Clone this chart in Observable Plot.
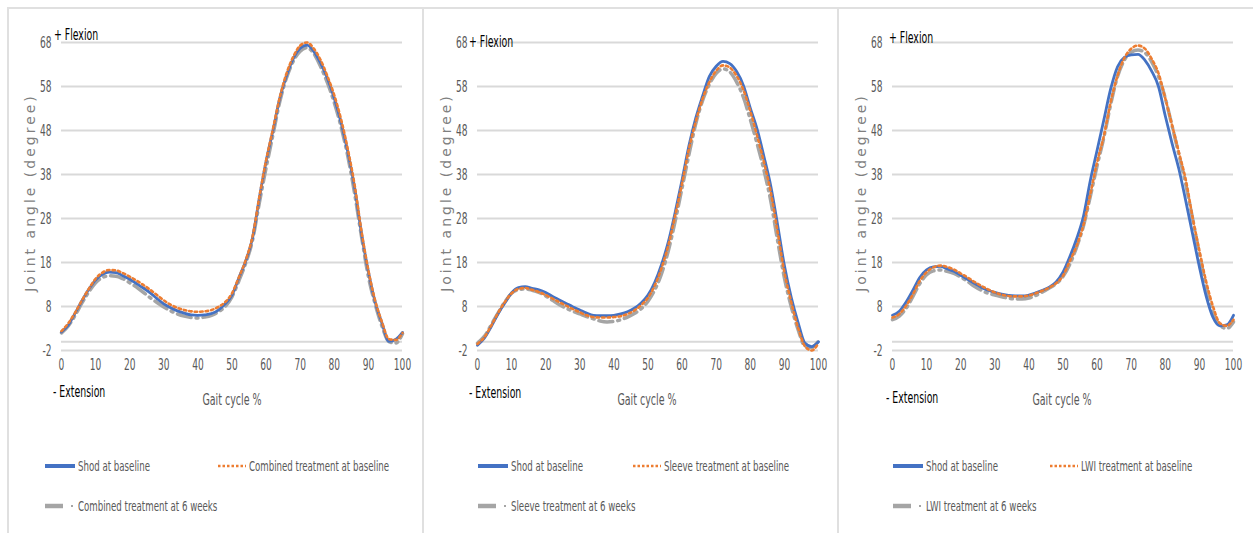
<!DOCTYPE html>
<html>
<head>
<meta charset="utf-8">
<script src="https://cdn.jsdelivr.net/npm/d3@7"></script>
<script src="https://cdn.jsdelivr.net/npm/@observablehq/plot@0.6"></script>
<style>
  html, body { margin: 0; padding: 0; background: #fff; }
  #root { position: relative; width: 1253px; height: 533px; overflow: hidden; background: #fff; }
  .frame { position: absolute; left: 7px; top: 7px; right: -5px; bottom: -5px; border-top: 2px solid #e0e0e0; border-left: 2px solid #e0e0e0; }
  .divider { position: absolute; top: 7px; bottom: 0; width: 0; border-left: 2px solid #e0e0e0; }
  .panel { position: absolute; top: 0; }
  .lbl { position: absolute; white-space: nowrap; font-family: "Liberation Sans Narrow", "DejaVu Sans Condensed", sans-serif; transform-origin: left center; }
  .leg { position: absolute; white-space: nowrap; font-family: "Liberation Sans Narrow", "DejaVu Sans Condensed", sans-serif; font-size: 13.5px; color: #595959; display: flex; align-items: center; height: 16px; }
  .leg svg { display: block; flex: none; }
  .leg span { display: inline-block; transform-origin: left center; }
</style>
</head>
<body>
<div id="root">
  <div class="frame"></div>
  <div class="divider" style="left:422px"></div>
  <div class="divider" style="left:837px"></div>
</div>
<script>
// ---- data ----
const gait = [0,2,4,6,8,10,12,14,16,18,20,22,24,26,28,30,32,34,36,38,40,42,44,46,48,50,52,54,56,58,60,62,64,66,68,70,72,74,76,78,80,82,84,86,88,90,92,94,96,98,100];
const xTicks = [0,10,20,30,40,50,60,70,80,90,100];
const yTicks = [-2,8,18,28,38,48,58,68];

// Panel 1: Combined treatment
const shod1 = [2.2,3.8,6.5,9.3,11.9,14.0,15.3,15.8,15.7,15.0,14.2,13.2,12.2,11.1,9.8,8.6,7.7,7.0,6.5,6.1,6.0,6.1,6.4,7.2,8.6,10.6,14.5,18.3,23.5,32.6,41.0,48.0,55.3,60.5,64.4,66.7,67.4,66.0,63.3,59.8,55.3,49.8,43.0,34.8,24.5,15.9,9.0,4.2,0.1,0.5,2.1];
const comb1 = [2.4,4.2,6.6,9.4,12.0,14.3,15.7,16.3,16.2,15.6,14.8,13.9,12.9,11.8,10.6,9.4,8.4,7.7,7.2,6.9,6.8,6.9,7.2,7.9,9.0,11.0,14.6,18.5,23.8,32.8,41.2,48.3,55.5,61.0,64.8,67.3,68.0,66.6,64.0,60.3,56.0,50.5,43.6,35.4,25.0,16.2,9.3,4.4,0.6,0.4,2.0];
const comb6w = [2.0,3.6,6.0,8.8,11.3,13.4,14.6,15.0,14.9,14.3,13.4,12.4,11.2,10.0,8.9,7.9,7.0,6.3,5.8,5.5,5.4,5.6,6.0,6.8,8.0,10.2,13.8,17.8,23.0,31.5,39.5,47.0,54.5,60.0,63.8,66.0,66.8,65.5,62.5,58.8,54.3,48.8,42.0,33.5,23.8,14.8,8.5,3.5,0.0,-0.3,1.8];

// Panel 2: Sleeve treatment
const shod2 = [-0.8,0.8,3.4,6.3,8.8,11.1,12.3,12.5,12.1,11.8,11.2,10.3,9.5,8.7,7.9,7.2,6.5,6.0,5.9,5.9,6.0,6.3,6.8,7.6,8.8,10.6,13.5,17.6,22.8,29.5,36.8,44.5,50.8,55.8,60.3,62.6,63.7,63.2,61.4,58.2,53.1,48.3,42.1,35.4,26.6,17.3,10.1,4.4,-0.3,-1.1,0.0];
const sleeve1 = [-0.5,1.0,3.6,6.5,9.0,11.0,12.0,12.2,11.8,11.3,10.6,9.8,9.0,8.2,7.4,6.7,6.0,5.6,5.5,5.5,5.6,5.8,6.3,7.1,8.3,10.0,12.8,16.8,22.0,28.8,36.0,43.8,50.0,55.2,59.0,61.6,62.8,62.3,60.4,57.2,52.4,46.8,40.8,34.0,25.0,15.8,9.0,3.2,-1.0,-2.0,-0.3];
const sleeve6w = [-0.3,1.2,3.8,6.5,9.0,11.0,11.8,12.0,11.7,11.2,10.4,9.4,8.4,7.6,6.9,6.3,5.7,5.2,4.7,4.5,4.6,5.0,5.6,6.4,7.5,9.2,11.8,15.5,20.8,27.5,35.0,42.5,49.5,54.8,58.5,61.0,62.0,61.3,59.0,55.5,50.5,45.0,39.0,32.0,23.0,14.5,8.0,2.8,-1.0,-1.3,0.2];

// Panel 3: LWI treatment
const shod3 = [6.0,6.9,9.0,11.7,14.6,16.3,17.0,17.1,16.6,16.0,15.1,14.2,13.3,12.4,11.7,11.2,10.8,10.5,10.4,10.4,10.6,11.1,11.7,12.4,13.6,15.8,19.3,23.4,28.5,36.6,43.5,50.5,57.5,62.5,64.6,65.2,65.3,64.0,61.5,58.0,51.3,45.0,39.2,32.0,24.5,17.0,10.3,5.5,3.6,3.8,6.0];
const lwi1 = [5.5,6.3,8.2,10.8,13.8,15.8,16.9,17.3,17.0,16.4,15.5,14.6,13.6,12.7,11.9,11.2,10.7,10.4,10.3,10.3,10.5,11.0,11.6,12.3,13.3,15.0,18.3,21.8,26.5,33.5,40.8,46.8,54.5,60.5,64.5,66.6,67.3,66.6,64.3,61.0,55.3,49.2,43.0,36.8,28.3,20.7,13.6,8.0,4.2,3.6,5.0];
const lwi6w = [5.0,5.8,7.6,10.3,13.2,15.2,16.1,16.3,16.0,15.5,14.7,13.7,12.6,11.7,11.0,10.6,10.2,9.9,9.7,9.7,9.9,10.5,11.3,12.2,13.2,14.8,17.6,21.5,26.3,33.0,40.0,46.5,54.0,60.3,64.0,65.8,66.3,65.7,63.6,60.3,55.3,49.0,42.5,35.8,28.0,20.0,12.5,6.3,3.8,3.0,4.5];

const names1 = ["Shod at baseline", "Combined treatment at baseline", "Combined treatment at 6 weeks"];
const names2 = ["Shod at baseline", "Sleeve treatment at baseline", "Sleeve treatment at 6 weeks"];
const names3 = ["Shod at baseline", "LWI treatment at baseline", "LWI treatment at 6 weeks"];

const yTitle = "Joint angle (degree)";
const xTitle = "Gait cycle %";
const flexLabel = "+ Flexion";
const extLabel = "- Extension";

// ---- styles ----
const BLUE = "#4472C4", ORANGE = "#ED7D31", GRAY = "#A5A5A5";
const NARROW = '"Liberation Sans Narrow", "DejaVu Sans Condensed", sans-serif';

const panels = [
  {left: 7,   series: [shod1, comb1, comb6w],   names: names1, flex: [47, 35], ext: [46, 392], gaitX: 225, legA: 38, legB: 211},
  {left: 423, series: [shod2, sleeve1, sleeve6w], names: names2, flex: [46, 42], ext: [46, 393], gaitX: 224, legA: 55, legB: 210},
  {left: 838, series: [shod3, lwi1, lwi6w],   names: names3, flex: [51, 38], ext: [48, 398], gaitX: 224, legA: 55, legB: 212}
];

const root = document.getElementById("root");

function toRows(vals) { return gait.map((g, i) => ({g, v: vals[i]})); }

panels.forEach(p => {
  const [s0, s1, s2] = p.series.map(toRows);
  const chart = Plot.plot({
    width: 415, height: 420,
    marginLeft: 54, marginRight: 20, marginTop: 42, marginBottom: 70,
    style: {fontFamily: NARROW, fontSize: "16px", color: "#595959", background: "transparent", overflow: "visible"},
    x: {domain: [0, 100], ticks: xTicks, tickSize: 0, tickPadding: 8, label: null, tickFormat: d => String(d)},
    y: {domain: [-2, 68], ticks: yTicks, tickSize: 0, tickPadding: 10, label: null, tickFormat: d => String(d)},
    marks: [
      Plot.ruleY(yTicks, {stroke: "#d9d9d9", strokeWidth: 2}),
      Plot.ruleY([0], {stroke: "#d9d9d9", strokeWidth: 2}),
      Plot.line(s2, {x: "g", y: "v", stroke: GRAY, strokeWidth: 3.5, strokeDasharray: "14,5,2,5", curve: "monotone-x"}),
      Plot.line(s0, {x: "g", y: "v", stroke: BLUE, strokeWidth: 2.8, curve: "monotone-x"}),
      Plot.line(s1, {x: "g", y: "v", stroke: ORANGE, strokeWidth: 2.6, strokeDasharray: "2.5,3", curve: "monotone-x"}),
      Plot.text([yTitle], {frameAnchor: "left", textAnchor: "middle", dx: -31, dy: -4, rotate: -90, fill: "#7f7f7f", fontSize: 14, fontFamily: "DejaVu Sans, sans-serif"})
    ]
  });
  // compress tick labels horizontally (narrow look of the original)
  d3.select(chart).selectAll("text").each(function() {
    if (this.textContent === yTitle) { d3.select(this).attr("letter-spacing", "3px"); return; }
    const t = d3.select(this);
    const x = +t.attr("x") || 0;
    const tr = t.attr("transform") || "";
    t.attr("x", null).attr("transform", `${tr} translate(${x},0) scale(0.63,1)`);
  });

  const div = document.createElement("div");
  div.className = "panel";
  div.style.left = p.left + "px";
  div.appendChild(chart);
  root.appendChild(div);

  // annotations
  const mk = (txt, x, y, size, color, sx, center) => {
    const el = document.createElement("div");
    el.className = "lbl";
    el.textContent = txt;
    el.style.fontSize = size + "px";
    el.style.color = color;
    el.style.top = (y - size * 0.6) + "px";
    el.style.lineHeight = (size * 1.2) + "px";
    el.style.left = (p.left + x) + "px";
    if (center) {
      el.style.transformOrigin = "center center";
      el.style.transform = `translateX(-50%) scaleX(${sx})`;
    } else {
      el.style.transform = `scaleX(${sx})`;
    }
    root.appendChild(el);
  };
  mk(flexLabel, p.flex[0], p.flex[1], 16, "#000", 0.65, false);
  mk(extLabel, p.ext[0], p.ext[1], 16, "#000", 0.65, false);
  mk(xTitle, p.gaitX, 400, 16, "#595959", 0.66, true);

  // legend
  const legItem = (x, y, swatch, txt) => {
    const el = document.createElement("div");
    el.className = "leg";
    el.style.left = (p.left + x) + "px";
    el.style.top = (y - 8) + "px";
    el.innerHTML = swatch + `<span style="margin-left:3px;transform:scaleX(0.71)">${txt}</span>`;
    root.appendChild(el);
  };
  const sBlue = `<svg width="30" height="8"><line x1="0" y1="4" x2="30" y2="4" stroke="${BLUE}" stroke-width="4"/></svg>`;
  const sOrange = `<svg width="28" height="8"><line x1="0" y1="4" x2="28" y2="4" stroke="${ORANGE}" stroke-width="2.5" stroke-dasharray="2.5,2"/></svg>`;
  const sGray = `<svg width="30" height="8"><line x1="0" y1="4" x2="18" y2="4" stroke="${GRAY}" stroke-width="4.5"/><rect x="26" y="3" width="2" height="2" fill="${GRAY}"/></svg>`;
  legItem(p.legA, 466, sBlue, p.names[0]);
  legItem(p.legB, 466, sOrange, p.names[1]);
  legItem(p.legA, 506, sGray, p.names[2]);
});
</script>
</body>
</html>
